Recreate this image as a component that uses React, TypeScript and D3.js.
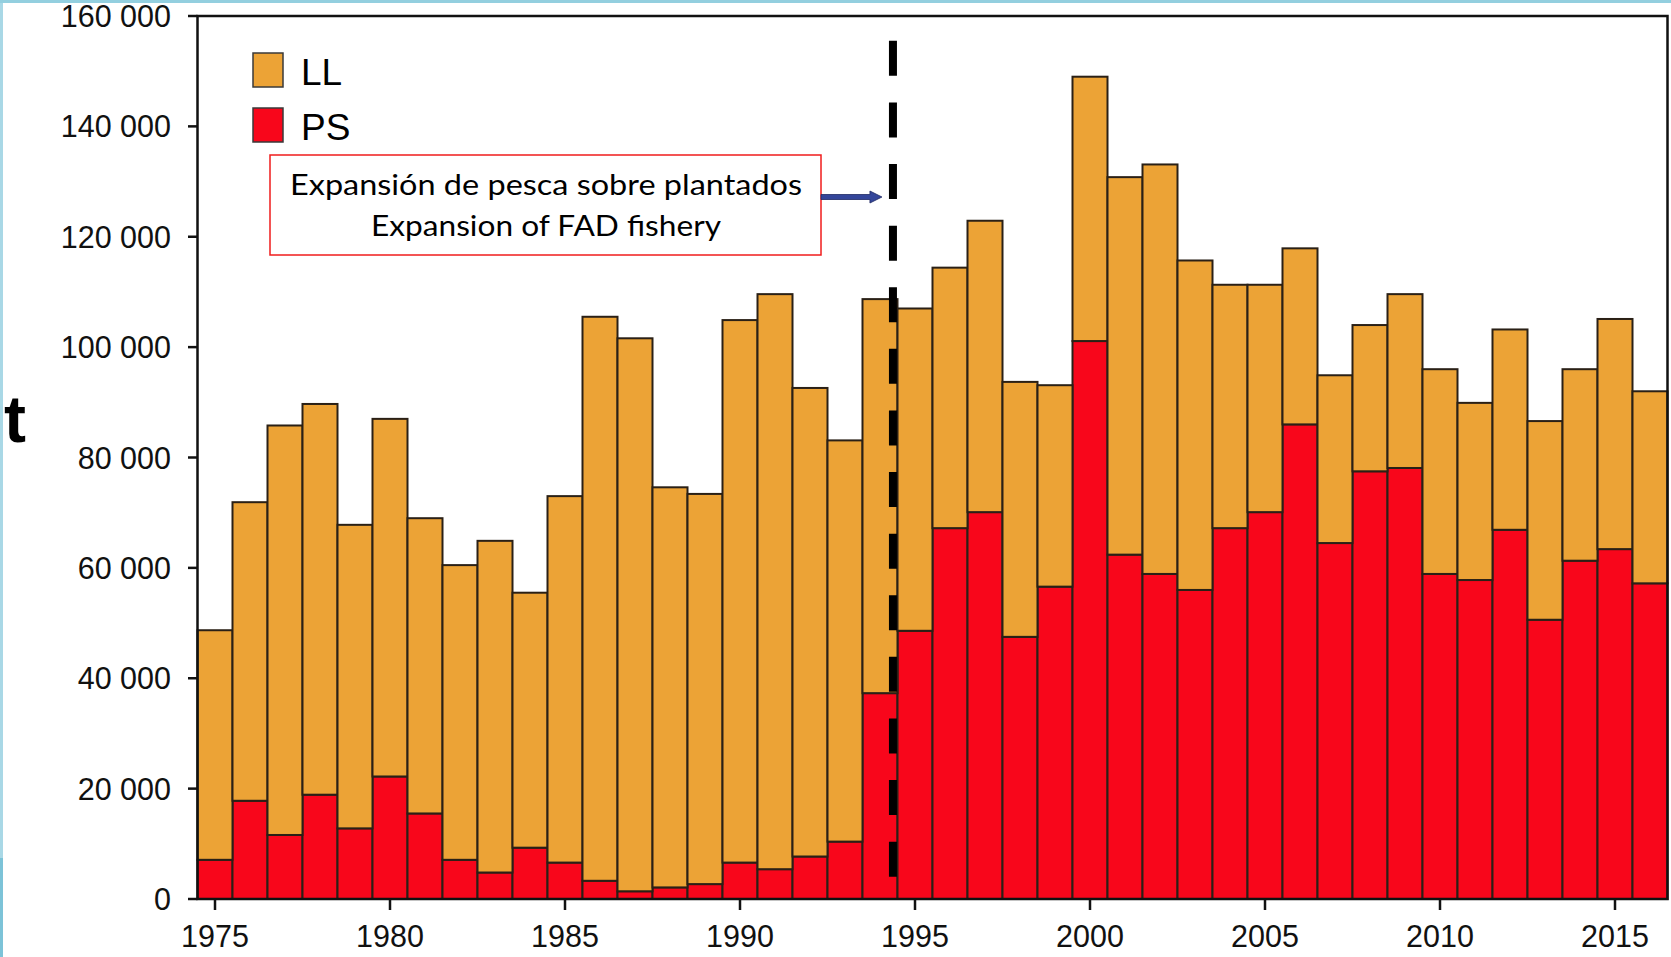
import React from 'react';
import * as d3 from 'd3';

// catches in tonnes
const years = d3.range(1975, 2017);
const psCatch = [
  7100, 17800, 11600, 18900, 12800, 22200, 15500, 7100, 4800, 9300,
  6600, 3300, 1400, 2100, 2700, 6600, 5400, 7700, 10400, 37300,
  48600, 67200, 70100, 47500, 56600, 101100, 62400, 58900, 56000, 67200,
  70100, 86000, 64500, 77500, 78100, 58900, 57800, 66900, 50600, 61300,
  63400, 57200,
];
const llCatch = [
  41600, 54100, 74200, 70800, 55000, 64800, 53500, 53400, 60100, 46200,
  66400, 102200, 100200, 72500, 70700, 98300, 104200, 84900, 72700, 71400,
  58400, 47200, 52800, 46200, 36500, 47900, 68400, 74200, 59700, 44100,
  41200, 31900, 30400, 26500, 31500, 37100, 32100, 36300, 36000, 34700,
  41700, 34800,
];
const series = ['PS', 'LL'];
const legendItems = ['LL', 'PS'];
const seriesColor: Record<string, string> = { LL: '#eca336', PS: '#f8061b' };
const yTicks = d3.range(0, 160001, 20000);
const xTicks = d3.range(1975, 2016, 5);
const noteLines = ['Expansión de pesca sobre plantados', 'Expansion of FAD fishery'];
const fadYear = 1994.37;

const W = 1671;
const H = 957;
const axisFont = '"Liberation Sans", Arial, sans-serif';

const fmt = d3.formatLocale({
  decimal: '.',
  thousands: ' ',
  grouping: [3],
  currency: ['', ''],
}).format(',');

export default function App() {
  const x = d3.scaleLinear().domain([1974.5, 2016.5]).range([197.5, 1667.5]);
  const y = d3.scaleLinear().domain([0, 160000]).range([899, 16]);
  const bw = x(1) - x(0);

  const table = years.map((yr, i) => ({ year: yr, PS: psCatch[i], LL: llCatch[i] }));
  const stacked = d3.stack<any>().keys(series)(table);

  const arrowY = 197;
  const arrowX0 = 821;
  const arrowX1 = x(fadYear) - 11;

  return (
    <div style={{ position: 'fixed', left: 0, top: 0 }}>
      <svg width={W} height={H} style={{ display: 'block', background: '#fff' }}>
        {/* slide frame remnants */}
        <rect x={0} y={0} width={3} height={858} fill="#a9d8e6" />
        <rect x={0} y={858} width={3} height={H - 858} fill="#7cc3d8" />
        <rect x={0} y={0} width={W} height={3} fill="#93cfdf" />

        {stacked.map((layer) => (
          <g key={layer.key}>
            {layer.map((d, i) => (
              <rect
                key={i}
                x={x(years[i]) - bw / 2}
                y={y(d[1])}
                width={bw}
                height={y(d[0]) - y(d[1])}
                fill={seriesColor[layer.key]}
                stroke="#2a2016"
                strokeWidth={2}
              />
            ))}
          </g>
        ))}

        {/* plot frame */}
        <rect
          x={x.range()[0]}
          y={y(160000)}
          width={x.range()[1] - x.range()[0]}
          height={y(0) - y(160000)}
          fill="none"
          stroke="#111"
          strokeWidth={2.5}
        />

        {/* y axis */}
        {yTicks.map((t) => (
          <g key={t}>
            <line x1={188} x2={197.5} y1={y(t)} y2={y(t)} stroke="#111" strokeWidth={2.5} />
            <text
              x={171}
              y={y(t) + 3}
              textAnchor="end"
              dominantBaseline="middle"
              fontFamily={axisFont}
              fontSize={30.5}
              fill="#111"
            >
              {fmt(t)}
            </text>
          </g>
        ))}
        <text x={4} y={442} fontFamily={axisFont} fontSize={66} fontWeight="bold" fill="#000">
          t
        </text>

        {/* x axis */}
        {xTicks.map((t) => (
          <g key={t}>
            <line x1={x(t)} x2={x(t)} y1={899} y2={910} stroke="#111" strokeWidth={2.5} />
            <text
              x={x(t)}
              y={947}
              textAnchor="middle"
              fontFamily={axisFont}
              fontSize={30.5}
              fill="#111"
            >
              {t}
            </text>
          </g>
        ))}

        {/* legend */}
        {legendItems.map((k, i) => (
          <g key={k} transform={`translate(253,${53 + i * 55})`}>
            <rect width={30} height={34} fill={seriesColor[k]} stroke="#3a3a3a" strokeWidth={1.5} />
            <text x={48} y={32} fontFamily={axisFont} fontSize={37} fill="#000">
              {k}
            </text>
          </g>
        ))}

        {/* FAD expansion line */}
        <line
          x1={x(fadYear)}
          x2={x(fadYear)}
          y1={y(155500)}
          y2={y(4000)}
          stroke="#000"
          strokeWidth={8}
          strokeDasharray="35 26.6"
        />

        {/* annotation box */}
        <rect x={270} y={155} width={551} height={100} fill="#fff" stroke="#f01c1c" strokeWidth={1.5} />
        {noteLines.map((s, i) => (
          <text
            key={i}
            x={546}
            y={195 + i * 41}
            textAnchor="middle"
            fontFamily="Lato, 'Open Sans', sans-serif"
            fontSize={29}
            textLength={i === 0 ? 512 : 350}
            lengthAdjust="spacingAndGlyphs"
            fill="#000"
          >
            {s}
          </text>
        ))}
        <path
          d={`M${arrowX0},${arrowY - 2.5} L${arrowX1 - 12},${arrowY - 2.5} L${arrowX1 - 12},${arrowY - 6} L${arrowX1},${arrowY} L${arrowX1 - 12},${arrowY + 6} L${arrowX1 - 12},${arrowY + 2.5} L${arrowX0},${arrowY + 2.5} Z`}
          fill="#34469a"
          stroke="#1f2a63"
          strokeWidth={0.8}
        />
      </svg>
    </div>
  );
}
